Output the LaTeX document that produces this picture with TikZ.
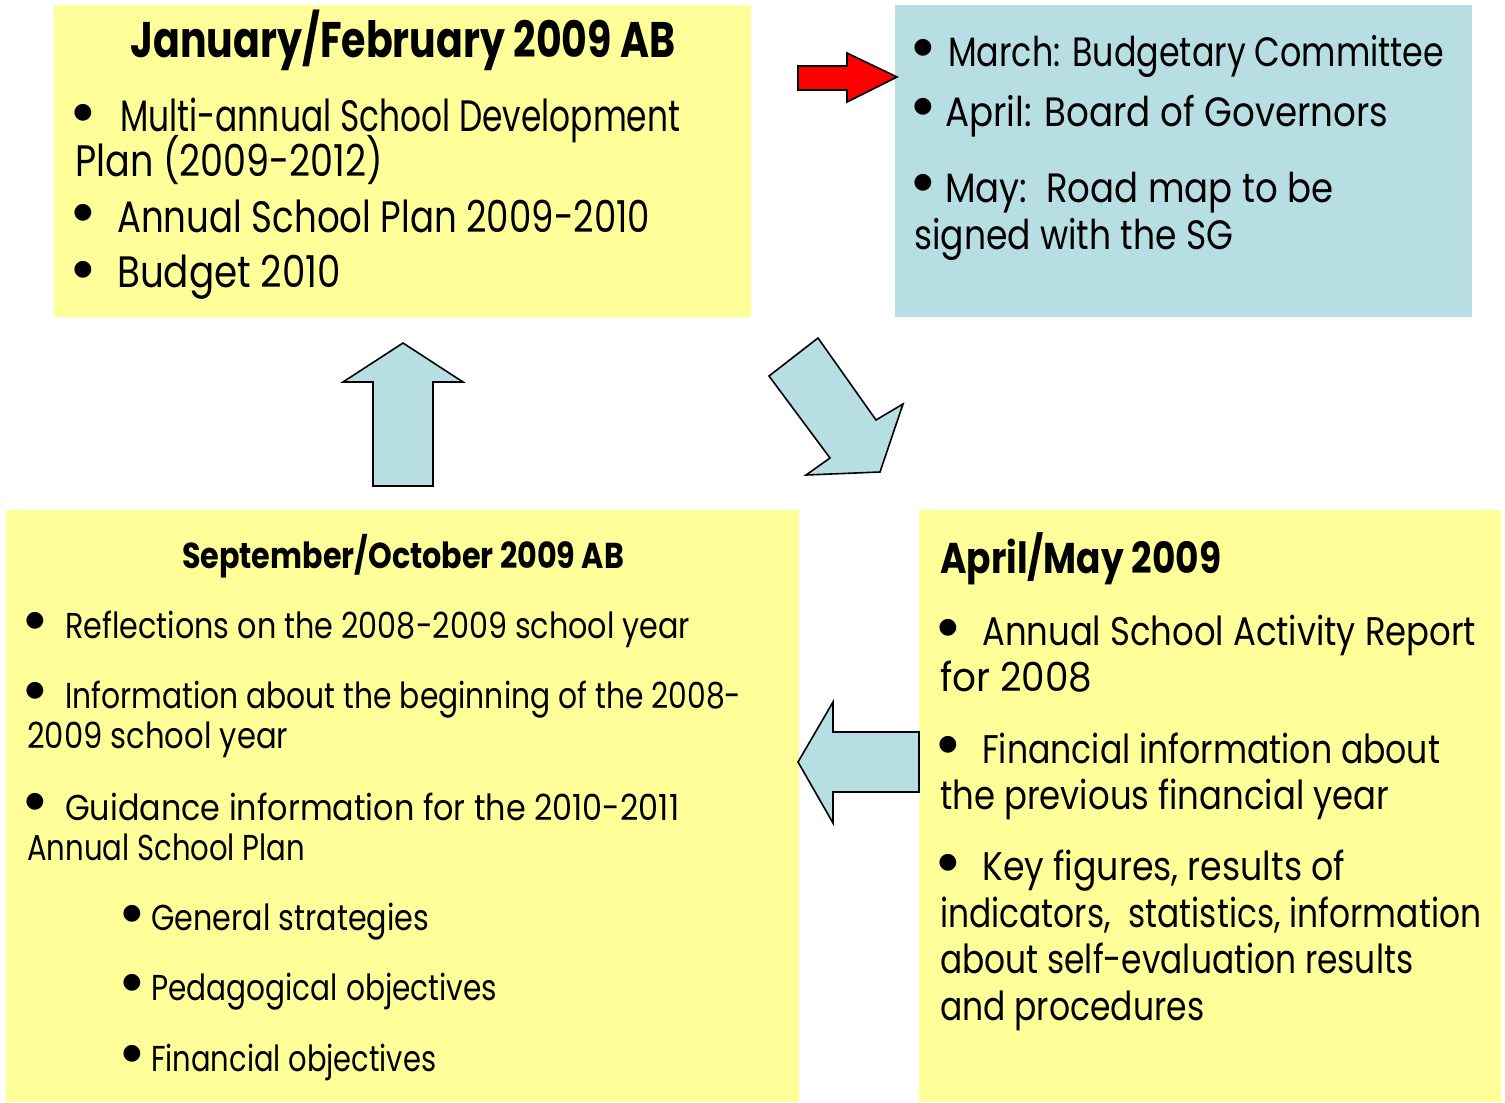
\documentclass[tikz,border=0pt]{standalone}
\usepackage{fontspec}
\setmainfont{Poppins}
\newfontfamily\bulfont{DejaVu Sans}
\usepackage{graphicx}
\newsavebox\fitbox
\newcommand\fitto[2]{\sbox\fitbox{#2}\scalebox{\fpeval{(#1)/(\the\wd\fitbox)}}[1]{\usebox\fitbox}}
\definecolor{paleyellow}{RGB}{255,255,153}
\definecolor{paleblue}{RGB}{183,223,227}
\definecolor{arrowred}{RGB}{255,0,0}
\tikzset{
  blockarrow/.style={draw=black, line width=1.6bp, line join=miter, fill=paleblue},
  txt/.style={anchor=base west, inner sep=0pt, text height=0.74em, text depth=0.2em},
  ttl/.style={anchor=base, inner sep=0pt, text height=0.74em, text depth=0.2em},
  dot/.style={anchor=base, inner sep=0pt, text height=0pt, text depth=0pt, font=\bulfont\fontsize{22bp}{22bp}\selectfont},
}
\newcommand\bul{●}
% bullet node is placed at its baseline: bullet centre + offset
\newcommand\bo{6}
\begin{document}
\begin{tikzpicture}[x=1bp,y=-1bp]
\useasboundingbox (0,0) rectangle (1505,1102);
% panels
\fill[paleyellow] (54,5) rectangle (751,317);
\fill[paleblue] (895,5) rectangle (1472,317);
\fill[paleyellow] (6,510) rectangle (799,1102);
\fill[paleyellow] (919,510) rectangle (1501,1102);
% block arrows
\draw[draw=black, line width=1.6bp, fill=arrowred] (798,66) -- (847,66) -- (847,53) -- (897,77) -- (847,102) -- (847,90) -- (798,90) -- cycle;
\draw[blockarrow] (403,343) -- (463,382) -- (433,382) -- (433,486) -- (373,486) -- (373,382) -- (343,382) -- cycle;
\draw[blockarrow] (769,376) -- (818,338) -- (876,420) -- (903,404) -- (880,472) -- (806,475) -- (830,458) -- cycle;
\draw[blockarrow] (798,762) -- (833,702) -- (833,732) -- (919,732) -- (919,792) -- (833,792) -- (833,823) -- cycle;
% top-left
\begin{scope}[every node/.append style={font=\fontsize{44bp}{44bp}\selectfont}]
\node[ttl, font=\fontsize{50bp}{50bp}\selectfont\bfseries] (tlT) at (403,57) {\fitto{545bp}{January/February 2009 AB}};
\node[dot] (tlb1) at (83,112+\bo) {\bul};
\node[txt] (tl1) at (120,131) {\fitto{560bp}{Multi-annual School Development}};
\node[txt] (tl2) at (75,176) {\fitto{308bp}{Plan (2009-2012)}};
\node[dot] (tlb2) at (83,212+\bo) {\bul};
\node[txt] (tl3) at (117,232) {\fitto{533bp}{Annual School Plan 2009-2010}};
\node[dot] (tlb3) at (83,269+\bo) {\bul};
\node[txt] (tl4) at (117,287) {\fitto{224bp}{Budget 2010}};
\end{scope}
% top-right
\begin{scope}[every node/.append style={font=\fontsize{41bp}{41bp}\selectfont}]
\node[dot] (trb1) at (923,47+\bo) {\bul};
\node[txt] (tr1) at (948,66) {\fitto{496bp}{March: Budgetary Committee}};
\node[dot] (trb2) at (923,106+\bo) {\bul};
\node[txt] (tr2) at (945,126) {\fitto{443bp}{April: Board of Governors}};
\node[dot] (trb3) at (923,182+\bo) {\bul};
\node[txt] (tr3) at (945,202) {\fitto{388bp}{May:\ \ Road map to be}};
\node[txt] (tr4) at (914,249) {\fitto{319bp}{signed with the SG}};
\end{scope}
% bottom-left
\begin{scope}[every node/.append style={font=\fontsize{36bp}{36bp}\selectfont}]
\node[ttl, font=\fontsize{36bp}{36bp}\selectfont\bfseries] (blT) at (403,568) {\fitto{442bp}{September/October 2009 AB}};
\node[dot] (blb1) at (35,620+\bo) {\bul};
\node[txt] (bl1) at (65,638) {\fitto{625bp}{Reflections on the 2008-2009 school year}};
\node[dot] (blb2) at (35,690+\bo) {\bul};
\node[txt] (bl2) at (65,708) {\fitto{676bp}{Information about the beginning of the 2008-}};
\node[txt] (bl3) at (27,748) {\fitto{261bp}{2009 school year}};
\node[dot] (blb3) at (35,801+\bo) {\bul};
\node[txt] (bl4) at (65,820) {\fitto{614bp}{Guidance information for the 2010-2011}};
\node[txt] (bl5) at (27,860) {\fitto{278bp}{Annual School Plan}};
\node[dot] (blb4) at (132,913+\bo) {\bul};
\node[txt] (bl6) at (151,930) {\fitto{278bp}{General strategies}};
\node[dot] (blb5) at (132,982+\bo) {\bul};
\node[txt] (bl7) at (151,1000) {\fitto{346bp}{Pedagogical objectives}};
\node[dot] (blb6) at (132,1053+\bo) {\bul};
\node[txt] (bl8) at (151,1071) {\fitto{285bp}{Financial objectives}};
\end{scope}
% bottom-right
\begin{scope}[every node/.append style={font=\fontsize{40bp}{40bp}\selectfont}]
\node[txt, font=\fontsize{43bp}{43bp}\selectfont\bfseries] (brT) at (940,573) {\fitto{281bp}{April/May 2009}};
\node[dot] (brb1) at (948,627+\bo) {\bul};
\node[txt] (br1) at (982,645) {\fitto{494bp}{Annual School Activity Report}};
\node[txt] (br2) at (940,691) {\fitto{152bp}{for 2008}};
\node[dot] (brb2) at (948,744+\bo) {\bul};
\node[txt] (br3) at (982,763) {\fitto{458bp}{Financial information about}};
\node[txt] (br4) at (940,809) {\fitto{449bp}{the previous financial year}};
\node[dot] (brb3) at (948,862+\bo) {\bul};
\node[txt] (br5) at (982,880) {\fitto{363bp}{Key figures, results of}};
\node[txt] (br6) at (940,927) {\fitto{541bp}{indicators,\ \ statistics, information}};
\node[txt] (br7) at (940,973) {\fitto{473bp}{about self-evaluation results}};
\node[txt] (br8) at (940,1020) {\fitto{264bp}{and procedures}};
\end{scope}
\end{tikzpicture}
\end{document}
